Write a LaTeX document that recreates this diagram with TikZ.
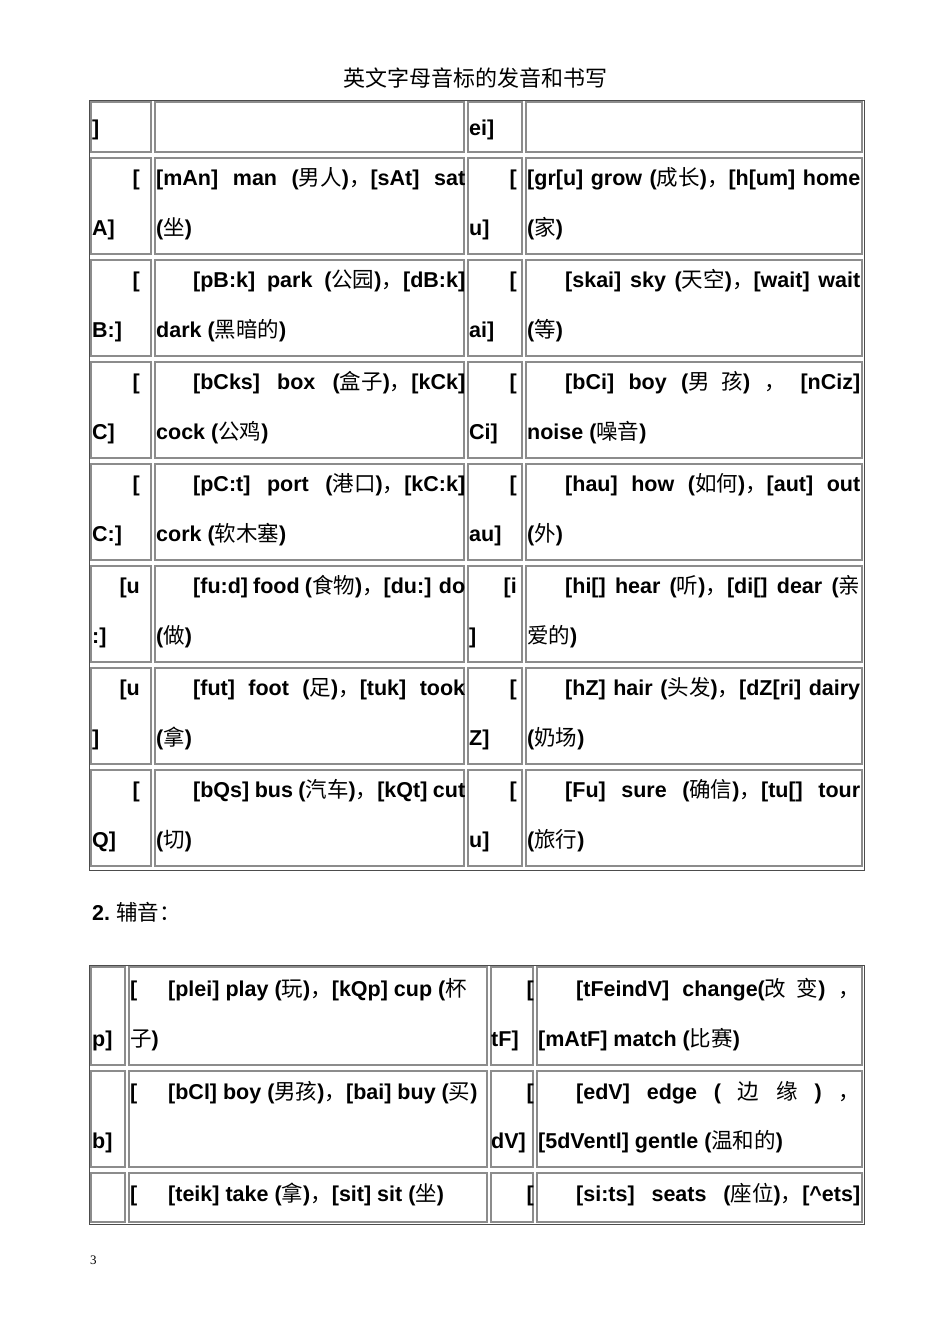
\documentclass[tikz,border=0pt]{standalone}
\usepackage{fontspec}
\setmainfont{Liberation Sans}
\newfontfamily\zhf{Noto Sans CJK SC}
\newfontfamily\serf{Liberation Serif}
\newcommand{\zh}[1]{{\zhf\mdseries #1}}
\begin{document}
\begin{tikzpicture}[x=1pt,y=-1pt,
  txt/.style={anchor=base west,inner sep=0pt,font=\fontsize{21.5}{24}\selectfont\bfseries},
  txr/.style={anchor=base east,inner sep=0pt,font=\fontsize{21.5}{24}\selectfont\bfseries},
  cellb/.style={draw=black!45,line width=1.2pt},
  outb/.style={draw=black!70,line width=1pt}]
\useasboundingbox (0,0) rectangle (950,1344);
\newcommand{\cellr}[4]{\draw[cellb] (#1+2,#2+2) rectangle (#3-2,#4-2);}
\newcommand{\J}[2]{\makebox[#1][s]{#2}}
\node[anchor=base,inner sep=0pt,font=\fontsize{22}{24}\selectfont] (title) at (475,86) {\zh{英文字母音标的发音和书写}};
% table 1
\draw[outb] (89,100) rectangle (864,870);
\foreach \t/\b in {100/154,156/256,258/358,360/460,462/562,564/664,666/766,768/868}{
  \cellr{89}{\t}{153}{\b}\cellr{153}{\t}{466}{\b}\cellr{466}{\t}{524}{\b}\cellr{524}{\t}{864}{\b}}
\node[txt] (r0a) at (92,135) {]};
\node[txt] (r0c) at (469,135) {ei]};
\newcommand{\R}[9]{%
 \node[txr] at (140,#1+29) {#2}; \node[txt] at (92,#1+79) {#3};
 \node[txt] at (#4) {#5}; \node[txt] at (156,#1+79) {#6};
 \node[txr] at (517,#1+29) {#7}; \node[txt] at (469,#1+79) {#8};
 #9}
\R{156}{[}{A]}{156,185}{\J{309pt}{[mAn] man (\zh{男人})\zh{，}[sAt] sat}}{(\zh{坐})}{[}{u]}{%
 \node[txt] at (527,185) {\J{333pt}{[gr[u] grow (\zh{成长})\zh{，}[h[um] home}};
 \node[txt] at (527,235) {(\zh{家})};}
\R{258}{[}{B:]}{193,287}{\J{272pt}{[pB:k] park (\zh{公园})\zh{，}[dB:k]}}{dark (\zh{黑暗的})}{[}{ai]}{%
 \node[txt] at (565,287) {\J{295pt}{[skai] sky (\zh{天空})\zh{，}[wait] wait}};
 \node[txt] at (527,337) {(\zh{等})};}
\R{360}{[}{C]}{193,389}{\J{272pt}{[bCks] box (\zh{盒子})\zh{，}[kCk]}}{cock (\zh{公鸡})}{[}{Ci]}{%
 \node[txt] at (565,389) {\J{295pt}{[bCi] boy (\zh{男 孩}) \zh{，} [nCiz]}};
 \node[txt] at (527,439) {noise (\zh{噪音})};}
\R{462}{[}{C:]}{193,491}{\J{272pt}{[pC:t] port (\zh{港口})\zh{，}[kC:k]}}{cork (\zh{软木塞})}{[}{au]}{%
 \node[txt] at (565,491) {\J{295pt}{[hau] how (\zh{如何})\zh{，}[aut] out}};
 \node[txt] at (527,541) {(\zh{外})};}
\R{564}{[u}{:]}{193,593}{\J{272pt}{[fu:d] food (\zh{食物})\zh{，}[du:] do}}{(\zh{做})}{[i}{]}{%
 \node[txt] at (565,593) {\J{295pt}{[hi[] hear (\zh{听})\zh{，}[di[] dear (\zh{亲}}};
 \node[txt] at (527,643) {\zh{爱的})};}
\R{666}{[u}{]}{193,695}{\J{272pt}{[fut] foot (\zh{足})\zh{，}[tuk] took}}{(\zh{拿})}{[}{Z]}{%
 \node[txt] at (565,695) {\J{295pt}{[hZ] hair (\zh{头发})\zh{，}[dZ[ri] dairy}};
 \node[txt] at (527,745) {(\zh{奶场})};}
\R{768}{[}{Q]}{193,797}{\J{272pt}{[bQs] bus (\zh{汽车})\zh{，}[kQt] cut}}{(\zh{切})}{[}{u]}{%
 \node[txt] at (565,797) {\J{295pt}{[Fu] sure (\zh{确信})\zh{，}[tu[] tour}};
 \node[txt] at (527,847) {(\zh{旅行})};}
% heading 2
\node[txt] (h2) at (92,920) {2.\ \zh{辅音：}};
% table 2
\draw[outb] (89,965) rectangle (864,1224);
\foreach \t/\b in {965/1067,1069/1169,1171/1224}{
  \cellr{89}{\t}{127}{\b}\cellr{127}{\t}{489}{\b}\cellr{489}{\t}{535}{\b}\cellr{535}{\t}{864}{\b}}
\node[txt] at (92,1046) {p]};
\node[txt] at (130,996) {[};
\node[txt] at (168,996) {[plei] play (\zh{玩})\zh{，}[kQp] cup (\zh{杯}};
\node[txt] at (130,1046) {\zh{子})};
\node[txr] at (534,996) {[};
\node[txt] at (491,1046) {tF]};
\node[txt] at (576,996) {\J{284pt}{[tFeindV] change(\zh{改 变}) \zh{，}}};
\node[txt] at (538,1046) {[mAtF] match (\zh{比赛})};
\node[txt] at (92,1148) {b]};
\node[txt] at (130,1099) {[};
\node[txt] at (168,1099) {[bCl] boy (\zh{男孩})\zh{，}[bai] buy (\zh{买})};
\node[txr] at (534,1099) {[};
\node[txt] at (491,1148) {dV]};
\node[txt] at (576,1099) {\J{284pt}{[edV] edge ( \zh{边} \zh{缘} ) \zh{，}}};
\node[txt] at (538,1148) {[5dVentl] gentle (\zh{温和的})};
\node[txt] at (130,1201) {[};
\node[txt] at (168,1201) {[teik] take (\zh{拿})\zh{，}[sit] sit (\zh{坐})};
\node[txr] at (534,1201) {[};
\node[txt] at (576,1201) {\J{284pt}{[si:ts] seats (\zh{座位})\zh{，}[\^{}ets]}};
\node[anchor=base west,inner sep=0pt,font=\fontsize{13}{15}\selectfont\serf] (pg) at (90,1264) {3};
\end{tikzpicture}
\end{document}
